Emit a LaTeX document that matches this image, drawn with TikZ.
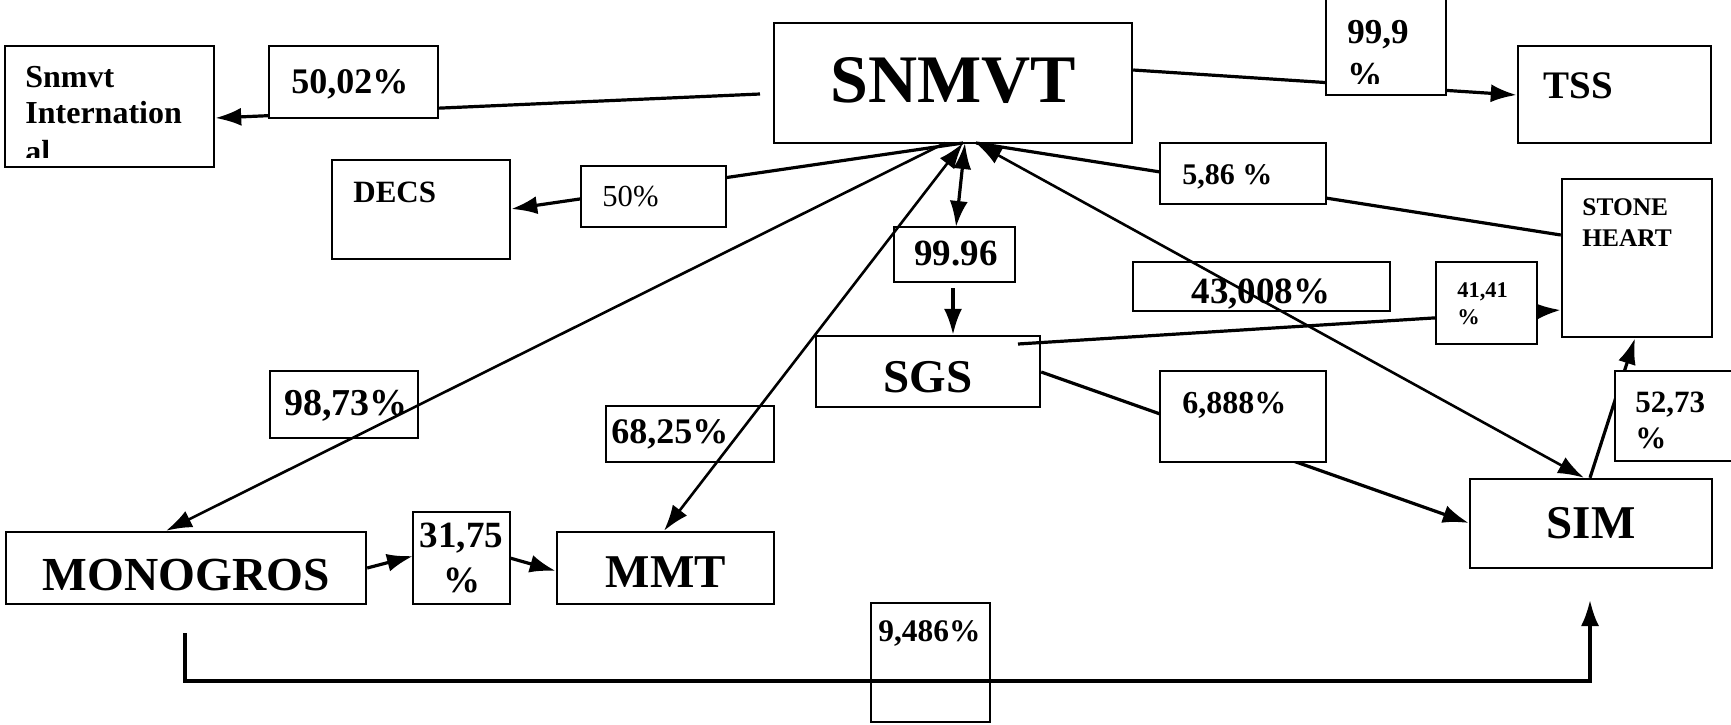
\documentclass[tikz,border=0pt]{standalone}
\usepackage{fontspec}
\setmainfont{Liberation Serif}
\usetikzlibrary{fit,arrows.meta}
\newcommand\fsz[1]{\fontsize{#1}{#1}\selectfont}
\tikzset{
  box/.style={draw, line width=1.2pt, fill=white, inner sep=0pt},
  ln/.style={line width=1.6pt},
  thin/.style={line width=1.3pt},
  tip/.tip={Latex[length=13pt,width=9pt]},
  arr/.style={ln, -tip},
  arrboth/.style={ln, tip-tip},
  tl/.style={inner sep=0pt, anchor=base west},
  tc/.style={inner sep=0pt, anchor=base},
}
\begin{document}
\begin{tikzpicture}[x=0.5pt,y=-0.5pt]
\fill[white] (0,0) rectangle (1731,724);
\useasboundingbox (0,0) rectangle (1731,724);
% entity boxes
\node[box, fit={(5,46) (214,167)}] (intl) {};
\node[box, fit={(332,160) (510,259)}] (decs) {};
\node[box, fit={(774,23) (1132,143)}] (snmvt) {};
\node[box, fit={(1518,46) (1711,143)}] (tss) {};
\node[box, fit={(1562,179) (1712,337)}] (stone) {};
\node[box, fit={(816,336) (1040,407)}] (sgs) {};
\node[box, fit={(1470,479) (1712,568)}] (sim) {};
\node[box, fit={(6,532) (366,604)}] (mono) {};
\node[box, fit={(557,532) (774,604)}] (mmt) {};
% hub points
\coordinate (hubL) at (945,143);
\coordinate (hub) at (963,143);
\coordinate (hubR) at (976,143);
\coordinate (sA) at (760,94);
\coordinate (sgsIn) at (1018,344);
\coordinate (p96out) at (953,288);
% connectors hidden under label boxes
\draw[arr] (sA) -- (intl.east |- 0,118);
\draw[arr] (hub) -- (decs.east |- 0,209);
\draw[arr] (snmvt.east |- 0,70) -- (tss.west |- 0,95);
\draw[ln] (hubR) -- (stone.west |- 0,235);
\draw[arr] (sgsIn) -- (stone.west |- 0,310);
\draw[arr] (sgs.east |- 0,372) -- (sim.west |- 0,523);
\draw[arr] (1590,0 |- sim.north) -- (1635,0 |- stone.south);
\draw[arrboth] (965,143) -- (956,227);
\draw[arr] (p96out) -- (953,0 |- sgs.north);
\draw[arr] (mono.east |- 0,568) -- (413,556);
\draw[arr] (510,558) -- (mmt.west |- 0,571);
% label boxes
\node[box, fit={(269,46) (438,118)}] (p5002) {};
\node[box, fit={(581,166) (726,227)}] (p50) {};
\node[box, fit={(1326,-10) (1446,95)}] (p999) {};
\node[box, fit={(1160,143) (1326,204)}] (p586) {};
\node[box, fit={(894,227) (1015,282)}] (p9996) {};
\node[box, fit={(1133,262) (1390,311)}] (p43008) {};
\node[box, fit={(1436,262) (1537,344)}] (p4141) {};
\node[box, fit={(1160,371) (1326,462)}] (p6888) {};
\node[box, fit={(1615,371) (1760,461)}] (p5273) {};
\node[box, fit={(871,603) (990,722)}] (p9486) {};
\node[box, fit={(270,371) (418,438)}] (p9873) {};
\node[box, fit={(606,406) (774,462)}] (p6825) {};
\node[box, fit={(413,512) (510,604)}] (p3175) {};
% texts
\begin{scope}[font=\bfseries\fsz{16}]
\node[tl] (t-intl1) at (25,87) {Snmvt};
\node[tl] (t-intl2) at (25,123) {Internation};
\begin{scope}
\clip (5,46) rectangle (214,157);
\node[tl] (t-intl3) at (25,162) {al};
\end{scope}
\end{scope}
\node[tl, font=\bfseries\fsz{18}] (t-5002) at (291,93) {50,02\%};
\node[tl, font=\bfseries\fsz{15.5}] (t-decs) at (353,202) {DECS};
\node[tl, font=\fsz{15.3}] (t-50) at (602,206) {50\%};
\node[tc, font=\bfseries\fsz{34}] (t-snmvt) at (953,102) {SNMVT};
\begin{scope}[font=\bfseries\fsz{17.5}]
\node[tl] (t-9991) at (1347,43) {99,9};
\begin{scope}
\clip (1326,0) rectangle (1446,83);
\node[tl] (t-9992) at (1347,86) {\%};
\end{scope}
\end{scope}
\node[tl, font=\bfseries\fsz{19.5}] (t-tss) at (1543,98) {TSS};
\node[tl, font=\bfseries\fsz{15}] (t-586) at (1182,184) {5,86 \%};
\node[tl, font=\bfseries\fsz{12.7}] (t-stone1) at (1582,215) {STONE};
\node[tl, font=\bfseries\fsz{12.7}] (t-stone2) at (1582,246) {HEART};
\node[tl, font=\bfseries\fsz{18.5}] (t-9996) at (914,265) {99.96};
\node[tc, font=\bfseries\fsz{18.5}] (t-43008) at (1261,303) {43,008\%};
\node[tl, font=\bfseries\fsz{11.2}] (t-41411) at (1457,297) {41,41};
\node[tl, font=\bfseries\fsz{11.2}] (t-41412) at (1457,324) {\%};
\node[tc, font=\bfseries\fsz{23.5}] (t-sgs) at (928,392) {SGS};
\node[tl, font=\bfseries\fsz{16}] (t-6888) at (1182,413) {6,888\%};
\node[tc, font=\bfseries\fsz{23.5}] (t-sim) at (1591,538) {SIM};
\node[tl, font=\bfseries\fsz{15.5}] (t-52731) at (1635,412) {52,73};
\node[tl, font=\bfseries\fsz{15.5}] (t-52732) at (1635,448) {\%};
\node[tl, font=\bfseries\fsz{15.7}] (t-9486) at (878,641) {9,486\%};
\node[tl, font=\bfseries\fsz{19}] (t-9873) at (284,415) {98,73\%};
\node[tl, font=\bfseries\fsz{18}] (t-6825) at (611,443) {68,25\%};
\node[tc, font=\bfseries\fsz{23.7}] (t-mono) at (186,590) {MONOGROS};
\node[tc, font=\bfseries\fsz{18.5}] (t-31751) at (461.5,547) {31,75};
\node[tc, font=\bfseries\fsz{18.5}] (t-31752) at (462,592) {\%};
\node[tc, font=\bfseries\fsz{23.5}] (t-mmt) at (666,587) {MMT};
% connectors drawn over labels
\draw[thin, -tip] (hubL) -- (166,0 |- mono.north);
\draw[thin, tip-tip] (hub) -- (664,0 |- mmt.north);
\draw[thin, tip-tip] (hubR) -- (1584,0 |- sim.north);
\coordinate (bstart) at (185,633);
\coordinate (bend) at (1590,600);
\draw[arr] (bstart) -- (185,681) -- (1590,681) -- (bend);
\end{tikzpicture}
\end{document}
